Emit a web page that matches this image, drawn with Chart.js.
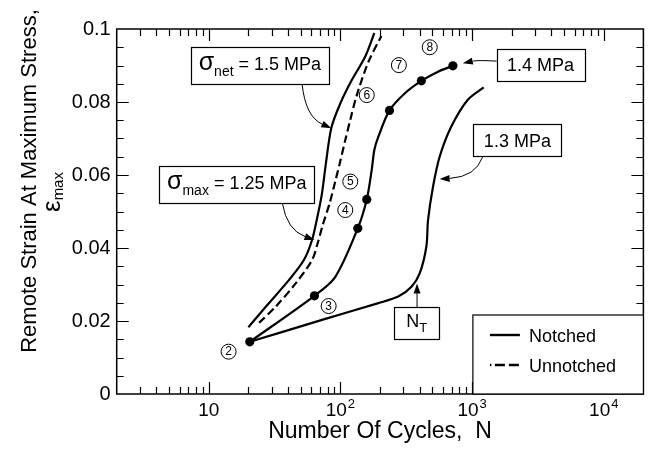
<!DOCTYPE html>
<html><head><meta charset="utf-8">
<script src="https://cdn.jsdelivr.net/npm/chart.js@4.4.1/dist/chart.umd.min.js"></script>
<style>html,body{margin:0;padding:0;background:#fff;}#wrap{width:648px;height:459px;}</style>
</head><body><div id="wrap"><canvas id="c" width="648" height="459"></canvas></div>
<script>
const FONT = "'Liberation Sans', Arial, Helvetica, sans-serif";

// ---- axis ticks ----
const xTickValues = [10, 100, 1000, 10000];
const xTickBase = ['10', '10', '10', '10'];
const xTickExp = ['', '2', '3', '4'];
const yTickValues = [0, 0.02, 0.04, 0.06, 0.08, 0.1];
const yTickLabels = ['0', '0.02', '0.04', '0.06', '0.08', '0.1'];

// ---- series (N cycles, strain) ----
const net15N = [20.0, 27.1, 40.6, 52.8, 60.9, 66.1, 72.1, 77.3, 85.3, 99.8, 122, 154, 181];
const net15E = [0.0183, 0.0239, 0.0312, 0.0367, 0.0422, 0.0477, 0.0545, 0.0627, 0.0729, 0.0796, 0.0860, 0.0924, 0.0989];
const un125N = [24.1, 32.2, 45.7, 60.9, 67.3, 73.4, 82.9, 91.9, 100.3, 108.9, 118.8, 133.2, 163.2, 204.6];
const un125E = [0.0195, 0.0239, 0.0303, 0.0367, 0.0414, 0.0463, 0.0523, 0.0586, 0.0641, 0.0696, 0.0751, 0.0819, 0.0910, 0.0981];
const n14N = [20.5, 63.5, 91.5, 135.5, 158.5, 172.9, 181.1, 194.2, 235.9, 308.9, 412, 551, 715];
const n14E = [0.0143, 0.0269, 0.0321, 0.0454, 0.0533, 0.0614, 0.0669, 0.0705, 0.0777, 0.0824, 0.0858, 0.0883, 0.0899];
const dots14N = [20.5, 63.5, 135.5, 158.5, 235.9, 412, 715];
const dots14E = [0.0143, 0.0269, 0.0454, 0.0533, 0.0777, 0.0858, 0.0899];
const n13N = [20.5, 72.5, 194.2, 274.9, 346.4, 400.8, 449.6, 463, 505, 567, 694, 928, 1225];
const n13E = [0.0143, 0.0203, 0.0249, 0.0267, 0.0294, 0.0331, 0.0404, 0.0477, 0.0568, 0.0650, 0.0732, 0.0806, 0.0840];

// ---- circled step numbers ----
const stepText = ['2', '3', '4', '5', '6', '7', '8'];
const stepN = [14.15, 81.4, 108.9, 118.8, 158.5, 278, 477];
const stepE = [0.0116, 0.0241, 0.0504, 0.0582, 0.0819, 0.0901, 0.0950];

// ---- annotation boxes (anchored at data coords) ----
const boxN = [24.46, 16.32, 3311, 2208, 379];
const boxE = [0.0900, 0.0573, 0.0902, 0.0695, 0.0194];
const boxRuns = [
  [['σ', 25, 0], ['net', 14, 6], [' = 1.5 MPa', 18, 0]],
  [['σ', 25, 0], ['max', 14, 6], [' = 1.25 MPa', 18, 0]],
  [['1.4 MPa', 18, 0]],
  [['1.3 MPa', 18, 0]],
  [['N', 18, 0], ['T', 13, 5]]
];
const boxW = [138, 155, 88, 88, 45];
const boxH = [37, 37, 32, 32, 32];

// ---- arrows: tail, control, head ----
const arrTailN = [51.2, 36.2, 1538, 1204, 382];
const arrTailE = [0.0849, 0.0523, 0.0912, 0.0650, 0.0238];
const arrCtrlN = [54.3, 39.3, 1104, 1067, 382];
const arrCtrlE = [0.0760, 0.0449, 0.0915, 0.0595, 0.0270];
const arrHeadN = [85.3, 63.5, 850, 567, 382];
const arrHeadE = [0.0728, 0.0422, 0.0906, 0.0589, 0.0303];

const legendLabels = ['Notched', 'Unnotched'];

function pts(xs, ys) { return xs.map((x, i) => ({ x: x, y: ys[i] })); }

const lineBase = { borderColor: '#000', backgroundColor: '#000', pointRadius: 0, tension: 0.3, fill: false };

function fnt(s) { return s + 'px ' + FONT; }

const deco = {
  id: 'deco',
  afterDatasetsDraw(chart) {
    const ctx = chart.ctx, a = chart.chartArea, xs = chart.scales.x, ys = chart.scales.y;
    const X = v => xs.getPixelForValue(v), Y = v => ys.getPixelForValue(v);
    ctx.save();
    ctx.strokeStyle = '#000'; ctx.fillStyle = '#000';
    // ticks
    ctx.lineWidth = 1.2;
    ctx.beginPath();
    for (let d = 0; d <= 4; d++) for (let m = 1; m <= 9; m++) {
      const v = m * Math.pow(10, d);
      if (v <= 2.01 || v >= 19999) continue;
      const p = Math.round(X(v)) + 0.5, L = m === 1 ? 12 : 7;
      ctx.moveTo(p, a.bottom); ctx.lineTo(p, a.bottom - L);
      ctx.moveTo(p, a.top); ctx.lineTo(p, a.top + L);
    }
    for (let k = 1; k < 20; k++) {
      const p = Math.round(Y(k * 0.005)) + 0.5, L = k % 4 === 0 ? 12 : 7;
      ctx.moveTo(a.left, p); ctx.lineTo(a.left + L, p);
      ctx.moveTo(a.right, p); ctx.lineTo(a.right - L, p);
    }
    ctx.stroke();
    // frame
    ctx.lineWidth = 1.5;
    ctx.strokeRect(a.left, a.top, a.right - a.left, a.bottom - a.top);

    // x tick labels with superscripts
    ctx.textBaseline = 'alphabetic';
    xTickValues.forEach((v, i) => {
      ctx.font = fnt(19); const w1 = ctx.measureText(xTickBase[i]).width;
      ctx.font = fnt(13); const w2 = xTickExp[i] ? ctx.measureText(xTickExp[i]).width + 1 : 0;
      const x0 = X(v) - (w1 + w2) / 2;
      ctx.textAlign = 'left';
      ctx.font = fnt(19); ctx.fillText(xTickBase[i], x0, 416);
      if (xTickExp[i]) { ctx.font = fnt(13); ctx.fillText(xTickExp[i], x0 + w1 + 1, 408); }
    });
    // x title
    ctx.font = fnt(23); ctx.textAlign = 'center';
    ctx.fillText('Number Of Cycles,  N', (a.left + a.right) / 2, 438);
    // y title
    ctx.save();
    ctx.translate(36, 181); ctx.rotate(-Math.PI / 2);
    ctx.font = fnt(22); ctx.textAlign = 'center';
    ctx.fillText('Remote Strain At Maximum Stress,', 0, 0);
    ctx.restore();
    ctx.save();
    ctx.translate(60, 192); ctx.rotate(-Math.PI / 2);
    ctx.font = fnt(26); const we = ctx.measureText('ε').width;
    ctx.font = fnt(15); const wm = ctx.measureText('max').width;
    ctx.textAlign = 'left';
    ctx.font = fnt(26); ctx.fillText('ε', -(we + wm) / 2, 0);
    ctx.font = fnt(15); ctx.fillText('max', -(we + wm) / 2 + we, 3);
    ctx.restore();

    // circled numbers
    ctx.lineWidth = 1;
    stepText.forEach((t, i) => {
      const cx = X(stepN[i]), cy = Y(stepE[i]);
      ctx.beginPath(); ctx.arc(cx, cy, 7.5, 0, Math.PI * 2);
      ctx.fillStyle = '#fff'; ctx.fill(); ctx.stroke();
      ctx.fillStyle = '#000'; ctx.font = fnt(12); ctx.textAlign = 'center'; ctx.textBaseline = 'middle';
      ctx.fillText(t, cx, cy + 0.5);
    });
    ctx.textBaseline = 'alphabetic';

    // arrows
    ctx.lineWidth = 1;
    arrTailN.forEach((_, i) => {
      const x0 = X(arrTailN[i]), y0 = Y(arrTailE[i]);
      const cx = X(arrCtrlN[i]), cy = Y(arrCtrlE[i]);
      const x1 = X(arrHeadN[i]), y1 = Y(arrHeadE[i]);
      const ang = Math.atan2(y1 - cy, x1 - cx), L = 10, W = 3.5;
      const bx = x1 - L * Math.cos(ang), by = y1 - L * Math.sin(ang);
      ctx.beginPath(); ctx.moveTo(x0, y0); ctx.quadraticCurveTo(cx, cy, bx, by); ctx.stroke();
      ctx.beginPath(); ctx.moveTo(x1, y1);
      ctx.lineTo(bx + W * Math.sin(ang), by - W * Math.cos(ang));
      ctx.lineTo(bx - W * Math.sin(ang), by + W * Math.cos(ang));
      ctx.closePath(); ctx.fill();
    });

    // boxes
    boxN.forEach((n, i) => {
      const cx = X(n), cy = Y(boxE[i]);
      const bx = Math.round(cx - boxW[i] / 2) + 0.5, by = Math.round(cy - boxH[i] / 2) + 0.5;
      ctx.fillStyle = '#fff'; ctx.fillRect(bx, by, boxW[i], boxH[i]);
      ctx.lineWidth = 1.2; ctx.strokeRect(bx, by, boxW[i], boxH[i]);
      ctx.fillStyle = '#000'; ctx.textAlign = 'left';
      let tw = 0;
      boxRuns[i].forEach(r => { ctx.font = fnt(r[1]); tw += ctx.measureText(r[0]).width; });
      let x = cx - tw / 2;
      const base = cy + (boxRuns[i].length > 1 ? 4 : 6.5);
      boxRuns[i].forEach(r => { ctx.font = fnt(r[1]); ctx.fillText(r[0], x, base + r[2]); x += ctx.measureText(r[0]).width; });
    });

    // legend
    const lx = a.right - 170.5, ly = a.bottom - 79;
    ctx.fillStyle = '#fff'; ctx.fillRect(lx, ly, a.right - lx, a.bottom - ly);
    ctx.lineWidth = 1.2; ctx.strokeRect(lx, ly, a.right - lx, a.bottom - ly);
    ctx.fillStyle = '#000';
    ctx.lineWidth = 2.4;
    ctx.beginPath(); ctx.moveTo(lx + 17, ly + 20); ctx.lineTo(lx + 47, ly + 20); ctx.stroke();
    ctx.setLineDash([1.5, 3.5, 10, 4, 10, 50]);
    ctx.beginPath(); ctx.moveTo(lx + 17, ly + 50); ctx.lineTo(lx + 47, ly + 50); ctx.stroke();
    ctx.setLineDash([]);
    ctx.font = fnt(18); ctx.textAlign = 'left';
    ctx.fillText(legendLabels[0], lx + 56, ly + 27);
    ctx.fillText(legendLabels[1], lx + 56, ly + 57);
    ctx.restore();
  }
};

new Chart(document.getElementById('c'), {
  type: 'line',
  data: {
    datasets: [
      Object.assign({}, lineBase, { label: 'σnet = 1.5 MPa (notched)', data: pts(net15N, net15E), borderWidth: 2.2 }),
      Object.assign({}, lineBase, { label: 'σmax = 1.25 MPa (unnotched)', data: pts(un125N, un125E), borderWidth: 2.2, borderDash: [8, 4] }),
      Object.assign({}, lineBase, { label: '1.4 MPa (notched)', data: pts(n14N, n14E), borderWidth: 2.2 }),
      Object.assign({}, lineBase, { label: '1.4 MPa steps', data: pts(dots14N, dots14E), showLine: false, pointRadius: 4.6, pointBorderWidth: 0 }),
      Object.assign({}, lineBase, { label: '1.3 MPa (notched)', data: pts(n13N, n13E), borderWidth: 2.2 })
    ]
  },
  options: {
    responsive: false, animation: false, devicePixelRatio: 1,
    layout: { padding: { top: 29, right: 1.5, left: 0, bottom: 0 } },
    plugins: { legend: { display: false }, tooltip: { enabled: false } },
    scales: {
      x: {
        type: 'logarithmic', min: 2, max: 20000,
        grid: { display: false, drawTicks: false },
        border: { display: false },
        ticks: { display: false },
        afterBuildTicks: s => { s.ticks = xTickValues.map(v => ({ value: v })); },
        afterFit: s => { s.height = 65; }
      },
      y: {
        type: 'linear', min: 0, max: 0.1,
        grid: { display: false, drawTicks: false },
        border: { display: false },
        ticks: { padding: 6, color: '#000', font: { family: FONT, size: 20 }, callback: (v, i) => yTickLabels[i] },
        afterBuildTicks: s => { s.ticks = yTickValues.map(v => ({ value: v })); },
        afterFit: s => { s.width = 116.7; }
      }
    }
  },
  plugins: [deco]
});
</script>
</body></html>
